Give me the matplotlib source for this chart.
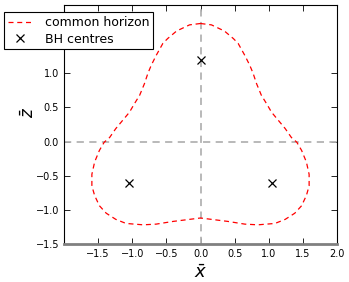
import numpy as np
import matplotlib.pyplot as plt

# common horizon outline (closed curve, clockwise from top)
horizon_x = [0.00, 0.16, 0.35, 0.48, 0.55, 0.65, 0.72, 0.77, 0.82, 0.89, 0.97, 1.04,
             1.14, 1.24, 1.33, 1.41, 1.48, 1.55, 1.59, 1.59, 1.55, 1.48, 1.38, 1.24,
             1.09, 0.84, 0.65, 0.40, 0.16, 0.00,
             -0.16, -0.40, -0.65, -0.84, -1.09, -1.24, -1.38, -1.48, -1.55, -1.59,
             -1.59, -1.55, -1.48, -1.41, -1.33, -1.24, -1.14, -1.04, -0.97, -0.89,
             -0.82, -0.77, -0.72, -0.65, -0.55, -0.48, -0.35, -0.16, 0.00]
horizon_z = [1.73, 1.71, 1.62, 1.51, 1.44, 1.26, 1.12, 1.00, 0.85, 0.68, 0.55, 0.43,
             0.31, 0.19, 0.06, -0.01, -0.13, -0.30, -0.48, -0.65, -0.79, -0.94, -1.05, -1.14,
             -1.20, -1.22, -1.21, -1.17, -1.14, -1.12,
             -1.14, -1.17, -1.21, -1.22, -1.20, -1.14, -1.05, -0.94, -0.79, -0.65,
             -0.48, -0.30, -0.13, -0.01, 0.06, 0.19, 0.31, 0.43, 0.55, 0.68,
             0.85, 1.00, 1.12, 1.26, 1.44, 1.51, 1.62, 1.71, 1.73]

# black hole centres
bh_x = [-1.04, 1.04, 0.0]
bh_z = [-0.6, -0.6, 1.2]

fig = plt.figure(figsize=(3.49, 2.82), dpi=100)
ax = fig.add_axes([0.183, 0.135, 0.783, 0.847])

ax.axhline(0, color='0.7', ls='--', lw=1.3, dashes=(4, 3))
ax.axvline(0, color='0.7', ls='--', lw=1.3, dashes=(4, 3))
ax.plot(horizon_x, horizon_z, '--', color='red', lw=0.9, dashes=(4, 3), label='common horizon')
ax.plot(bh_x, bh_z, 'x', color='black', ms=6, mew=0.9, ls='none', label='BH centres')

ax.set_xlim(-2, 2)
ax.set_ylim(-1.5, 2.0)
ax.set_xticks([-1.5, -1.0, -0.5, 0.0, 0.5, 1.0, 1.5, 2.0])
ax.set_yticks([-1.5, -1.0, -0.5, 0.0, 0.5, 1.0])
ax.tick_params(direction='in', top=True, right=True, labelsize=7, length=4, width=0.6)
ax.spines['bottom'].set_color('0.5')
ax.spines['bottom'].set_linewidth(2)
for s in ['top', 'left', 'right']:
    ax.spines[s].set_linewidth(0.8)

ax.set_xlabel(r'$\bar{x}$', fontsize=13, labelpad=4)
ax.set_ylabel(r'$\bar{z}$', fontsize=12)
ax.yaxis.set_label_coords(-0.095, 0.55)

leg = ax.legend(loc='upper left', bbox_to_anchor=(0.011, 0.957), bbox_transform=fig.transFigure,
                fontsize=9, fancybox=False, framealpha=1, borderaxespad=0,
                handlelength=2.0, borderpad=0.3, labelspacing=0.3, handletextpad=1.0)
leg.get_frame().set_edgecolor('black')
leg.get_frame().set_linewidth(0.8)

fig.savefig('out.png', dpi=100)
